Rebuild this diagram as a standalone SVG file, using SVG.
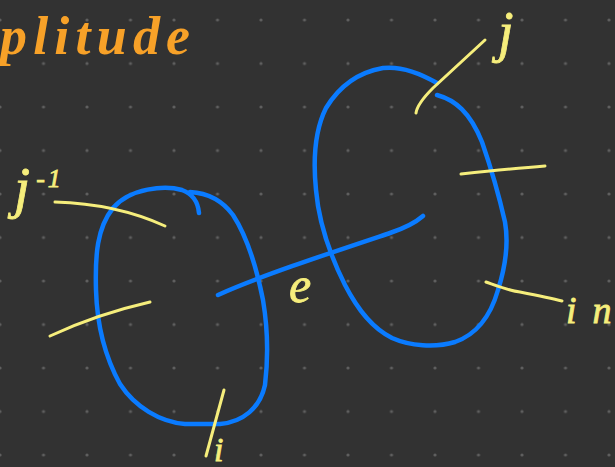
<svg xmlns="http://www.w3.org/2000/svg" width="615" height="467" viewBox="0 0 615 467">
  <defs>
    <pattern id="dots" patternUnits="userSpaceOnUse" x="-21.75" y="-1.75" width="43.5" height="43.5">
      <circle cx="21.75" cy="21.75" r="1.6" fill="#5f5f5f"/>
    </pattern>
    <style>
      .blue { fill: none; stroke: #0a7bff; stroke-width: 4.5; stroke-linecap: round; stroke-linejoin: round; }
      .tick { fill: none; stroke: #f6ee7c; stroke-width: 3; stroke-linecap: round; }
      .lbl { font-family: "Liberation Serif", "DejaVu Serif", serif; font-style: italic; fill: #f6ee7c; stroke: #f6ee7c; stroke-width: 0.8; }
      .title { font-family: "Liberation Serif", "DejaVu Serif", serif; font-style: italic; font-weight: bold; fill: #f7a128; }
    </style>
  </defs>
  <rect width="615" height="467" fill="#323232"/>
  <rect width="615" height="467" fill="url(#dots)"/>

  <g id="title">
    <text class="title" x="0" y="54" font-size="54" textLength="190" lengthAdjust="spacing">plitude</text>
  </g>

  <g id="loop-left">
    <path class="blue" d="M199,213 C198,202 193,194 182,190 C165,185 130,188 113,208 C97,228 95,255 96,290 C97,325 104,355 120,384 C135,407 160,422 185,424 L220,424 C243,422 260,408 265,385 C268,360 268,330 263,300 C256,265 246,235 233,215 C222,200 207,193 190,192"/>
  </g>

  <g id="loop-right">
    <path class="blue" d="M437,95 C455,100 470,112 482,142 C490,165 500,200 505,222 C509,245 505,268 498,290 C490,318 475,335 455,342 C435,348 410,346 392,338 C372,328 358,310 345,285 C330,255 319,225 316,190 C313,160 315,130 326,108 C340,85 360,72 383,68 C400,66 418,72 437,83"/>
  </g>

  <g id="connectors">
    <path class="blue" stroke-width="3.5" d="M218,295 C260,276 330,253 390,233 C405,228 415,223 423,216"/>
    <path class="tick" d="M55,202 C90,203 130,210 165,226"/>
    <path class="tick" d="M50,336 C80,322 115,310 150,302"/>
    <path class="tick" d="M224,390 L206,456"/>
    <path class="tick" d="M416,113 C417,106 422,99 433,88 L485,40"/>
    <path class="tick" d="M461,174 C490,171 520,168 545,166"/>
    <path class="tick" d="M486,282 C500,287 510,291 520,292 C535,295 550,298 562,301"/>
  </g>

  <g id="labels">
    <text class="lbl" x="498" y="51" font-size="56">j</text>
    <text class="lbl" x="14" y="207" font-size="58">j<tspan font-size="26" dy="-20" dx="6" letter-spacing="3">-1</tspan></text>
    <text class="lbl" x="289" y="302" font-size="50">e</text>
    <text class="lbl" x="214" y="461" font-size="34">i</text>
    <text class="lbl" x="566" y="323" font-size="38">i<tspan dx="16">n</tspan></text>
  </g>
</svg>
